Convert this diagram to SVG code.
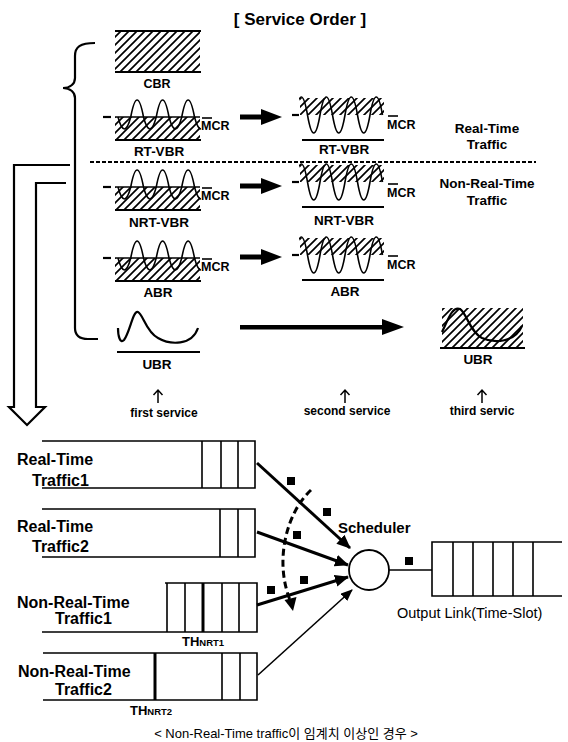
<svg xmlns="http://www.w3.org/2000/svg" width="568" height="742" viewBox="0 0 568 742">
<style>
.t{font-family:"Liberation Sans",Arial,sans-serif;fill:#000}
.b{font-weight:bold}
.ln{stroke:#000;fill:none;stroke-width:1.6}
.thk{stroke:#000;fill:none;stroke-width:2.2}
.wave{stroke:#000;fill:none;stroke-width:1.6}
.up{stroke:#000;fill:none;stroke-width:1.5}
.pk{fill:#000}
.cap{font-family:"Liberation Sans","Noto Sans CJK KR",sans-serif;fill:#000}
</style>
<defs>
<pattern id="hatch" patternUnits="userSpaceOnUse" width="8" height="8">
<path d="M-2,10 L10,-2 M-2,2 L2,-2 M6,10 L10,6" stroke="#000" stroke-width="1.7"/>
</pattern>
<clipPath id="c1"><rect x="-1" y="-30" width="87" height="60"/></clipPath>
<clipPath id="c2"><rect x="-1" y="-30" width="86" height="60"/></clipPath>
<g id="w1">
<line x1="-12" y1="0" x2="-4" y2="0" class="thk"/>
<rect x="0" y="0" width="85" height="23" fill="url(#hatch)"/>
<line x1="0" y1="0" x2="85" y2="0" class="ln"/>
<line x1="0" y1="23" x2="86" y2="23" class="thk"/>
<path d="M3,0 q6.375,24 12.75,0 q6.375,-34 12.75,0 q6.375,24 12.75,0 q6.375,-34 12.75,0 q6.375,24 12.75,0 q6.375,-34 12.75,0 q6.375,24 12.75,0" clip-path="url(#c1)" class="wave"/>
</g>
<g id="w2">
<line x1="-8" y1="0" x2="-1" y2="0" class="thk"/>
<rect x="0" y="-17" width="84" height="17" fill="url(#hatch)"/>
<line x1="2" y1="25" x2="84" y2="25" class="thk"/>
<path d="M-5,0 q6.25,-36 12.5,0 t12.5,0 t12.5,0 t12.5,0 t12.5,0 t12.5,0 t12.5,0" clip-path="url(#c2)" class="wave"/>
</g>
<g id="fat"><rect x="0" y="-2.5" width="24" height="5"/><polygon points="21,-8 42,0 21,8"/></g>
<marker id="ah" markerUnits="userSpaceOnUse" markerWidth="16" markerHeight="14" refX="13" refY="6" orient="auto">
<polygon points="0,0 14,6 0,12" fill="#000"/>
</marker>
<marker id="ah2" markerUnits="userSpaceOnUse" markerWidth="14" markerHeight="12" refX="11" refY="5" orient="auto">
<polygon points="0,0 12,5 0,10" fill="#000"/>
</marker>
</defs>
<rect width="568" height="742" fill="#fff"/>

<text class="t b" x="300" y="25" font-size="17" text-anchor="middle">[ Service Order ]</text>

<g id="brace"><path class="thk" d="M95,43 C80,43 75,47 75,56 L75,78 C75,84 70,88 63,88 C70,88 75,92 75,98 L75,328 C75,336 80,339 88,339 L98,339"/></g>
<g id="down-arrow"><path class="thk" d="M70,165 L14,165 L14,407 L9,407 L27,425 L45,407 L36,407 L36,183 L66,183"/></g>

<g id="cbr">
<rect x="115" y="31" width="85" height="41" fill="url(#hatch)"/>
<line x1="115" y1="31" x2="201" y2="31" class="thk"/>
<line x1="115" y1="72" x2="201" y2="72" class="thk"/>
<text class="t b" x="157" y="88" font-size="12.5" text-anchor="middle">CBR</text>
</g>

<g id="rtvbr1"><use href="#w1" x="115" y="117"/>
<text class="t b" x="159" y="156" font-size="13.5" text-anchor="middle">RT-VBR</text>
<text class="t b" x="201" y="130" font-size="12.5">MCR</text><line x1="202" y1="118" x2="212" y2="118" class="ln"/></g>
<g id="nrtvbr1"><use href="#w1" x="115" y="187"/>
<text class="t b" x="159" y="227" font-size="13.5" text-anchor="middle">NRT-VBR</text>
<text class="t b" x="201" y="200" font-size="12.5">MCR</text><line x1="202" y1="188" x2="212" y2="188" class="ln"/></g>
<g id="abr1"><use href="#w1" x="115" y="258"/>
<text class="t b" x="158" y="297" font-size="13.5" text-anchor="middle">ABR</text>
<text class="t b" x="201" y="271" font-size="12.5">MCR</text><line x1="202" y1="259" x2="212" y2="259" class="ln"/></g>
<g id="ubr1">
<path class="thk" d="M118,328 C118,336 120,344 124,340 C130,332 133,310 138,312 C143,314 146,332 158,338 C170,345 192,346 198,328"/>
<line x1="117" y1="352" x2="200" y2="352" class="thk"/>
<text class="t b" x="157" y="369" font-size="13.5" text-anchor="middle">UBR</text>
</g>

<g id="rtvbr2"><use href="#w2" x="300" y="115"/>
<text class="t b" x="344" y="154" font-size="13.5" text-anchor="middle">RT-VBR</text>
<text class="t b" x="387" y="129" font-size="12.5">MCR</text><line x1="388" y1="116" x2="398" y2="116" class="ln"/></g>
<g id="nrtvbr2"><use href="#w2" x="300" y="182"/>
<text class="t b" x="344" y="225" font-size="13.5" text-anchor="middle">NRT-VBR</text>
<text class="t b" x="387" y="197" font-size="12.5">MCR</text><line x1="388" y1="184" x2="398" y2="184" class="ln"/></g>
<g id="abr2"><use href="#w2" x="300" y="255"/>
<text class="t b" x="345" y="296" font-size="13.5" text-anchor="middle">ABR</text>
<text class="t b" x="387" y="269" font-size="12.5">MCR</text><line x1="388" y1="256" x2="398" y2="256" class="ln"/></g>
<g id="ubr3">
<rect x="442" y="308" width="81" height="40" fill="url(#hatch)"/>
<path class="thk" d="M442,332 C448,320 452,306 460,309 C466,312 470,332 482,338 C495,344 515,342 522,326"/>
<line x1="440" y1="348" x2="525" y2="348" class="thk"/>
<text class="t b" x="478" y="364" font-size="13.5" text-anchor="middle">UBR</text>
</g>

<g id="rt-label"><text class="t b" x="487" y="133" font-size="13.5" text-anchor="middle">Real-Time</text>
<text class="t b" x="487" y="149" font-size="13.5" text-anchor="middle">Traffic</text></g>
<g id="nrt-label"><text class="t b" x="487" y="188" font-size="13.5" text-anchor="middle">Non-Real-Time</text>
<text class="t b" x="487" y="205" font-size="13.5" text-anchor="middle">Traffic</text></g>

<line x1="90" y1="162" x2="536" y2="162" stroke="#000" stroke-width="2" stroke-dasharray="4,2"/>

<g id="top-arrows">
<use href="#fat" x="240" y="117"/>
<use href="#fat" x="240" y="186"/>
<use href="#fat" x="240" y="257"/>
<rect x="240" y="325" width="144" height="4.5"/>
<polygon points="382,319 404,327 382,335"/>
</g>

<g id="services">
<path class="up" d="M158,403 V390 M153.5,395 L158,390 L162.5,395"/>
<text class="t b" x="164" y="417" font-size="12" text-anchor="middle">first service</text>
<path class="up" d="M345,403 V390 M340.5,395 L345,390 L349.5,395"/>
<text class="t b" x="347" y="415" font-size="12" text-anchor="middle">second service</text>
<path class="up" d="M482,403 V390 M477.5,395 L482,390 L486.5,395"/>
<text class="t b" x="482" y="415" font-size="12" text-anchor="middle">third servic</text>
</g>

<g id="q-rt1">
<path class="ln" d="M42,441 H255 V488 H42 M202,441 V488 M221,441 V488 M238,441 V488"/>
<text class="t b" x="17" y="465" font-size="16">Real-Time</text>
<text class="t b" x="32" y="486" font-size="16">Traffic1</text>
</g>
<g id="q-rt2">
<path class="ln" d="M42,509 H255 V557 H42 M220,509 V557 M238,509 V557"/>
<text class="t b" x="17" y="532" font-size="16">Real-Time</text>
<text class="t b" x="32" y="552" font-size="16">Traffic2</text>
</g>
<g id="q-nrt1">
<path class="ln" d="M165,583 H257 V632 H42 M167,583 V632 M185,583 V632 M222,583 V632 M239,583 V632"/>
<line x1="203" y1="583" x2="203" y2="632" stroke="#000" stroke-width="3"/>
<text class="t b" x="17" y="608" font-size="16">Non-Real-Time</text>
<text class="t b" x="55" y="624" font-size="16">Traffic1</text>
<text class="t b" x="182" y="646" font-size="13">TH<tspan font-size="9.5">NRT1</tspan></text>
</g>
<g id="q-nrt2">
<path class="ln" d="M43,653 H257 V700 H43 M222,653 V700 M240,653 V700"/>
<line x1="155" y1="653" x2="155" y2="700" stroke="#000" stroke-width="3"/>
<text class="t b" x="18" y="677" font-size="16">Non-Real-Time</text>
<text class="t b" x="55" y="695" font-size="16">Traffic2</text>
<text class="t b" x="130" y="715" font-size="13">TH<tspan font-size="9.5">NRT2</tspan></text>
</g>

<g id="scheduler">
<circle cx="369" cy="570" r="20" fill="#fff" stroke="#000" stroke-width="1.8"/>
<text class="t b" x="338" y="533" font-size="15">Scheduler</text>
</g>
<g id="output">
<path class="ln" d="M562,542 H432 V596 H562 M453,542 V596 M473,542 V596 M493,542 V596 M513,542 V596 M533,542 V596"/>
<text class="t" x="397" y="618" font-size="14.5">Output Link(Time-Slot)</text>
</g>

<g id="connectors">
<line x1="257" y1="463" x2="350" y2="548" stroke="#000" stroke-width="3" marker-end="url(#ah)"/>
<line x1="257" y1="532" x2="348" y2="565" stroke="#000" stroke-width="3" marker-end="url(#ah)"/>
<line x1="257" y1="605" x2="348" y2="577" stroke="#000" stroke-width="3" marker-end="url(#ah)"/>
<line x1="258" y1="675" x2="352" y2="590" stroke="#000" stroke-width="1.6" marker-end="url(#ah2)"/>
<path d="M311,490 C287,512 274,560 290,600" fill="none" stroke="#000" stroke-width="3" stroke-dasharray="7,4"/>
<polygon points="284.5,600 296.5,597 293,611"/>
<line x1="389" y1="570" x2="432" y2="570" class="ln"/>
</g>

<g id="packets">
<rect class="pk" x="287" y="477" width="8" height="8"/>
<rect class="pk" x="323" y="508" width="8" height="8"/>
<rect class="pk" x="293" y="531" width="8" height="8"/>
<rect class="pk" x="300" y="576" width="8" height="8"/>
<rect class="pk" x="267" y="586" width="8" height="8"/>
<rect class="pk" x="405" y="557" width="8" height="8"/>
</g>

<text class="cap" x="286" y="738" font-size="13" text-anchor="middle">&lt; Non-Real-Time traffic이 임계치 이상인 경우 &gt;</text>
</svg>
